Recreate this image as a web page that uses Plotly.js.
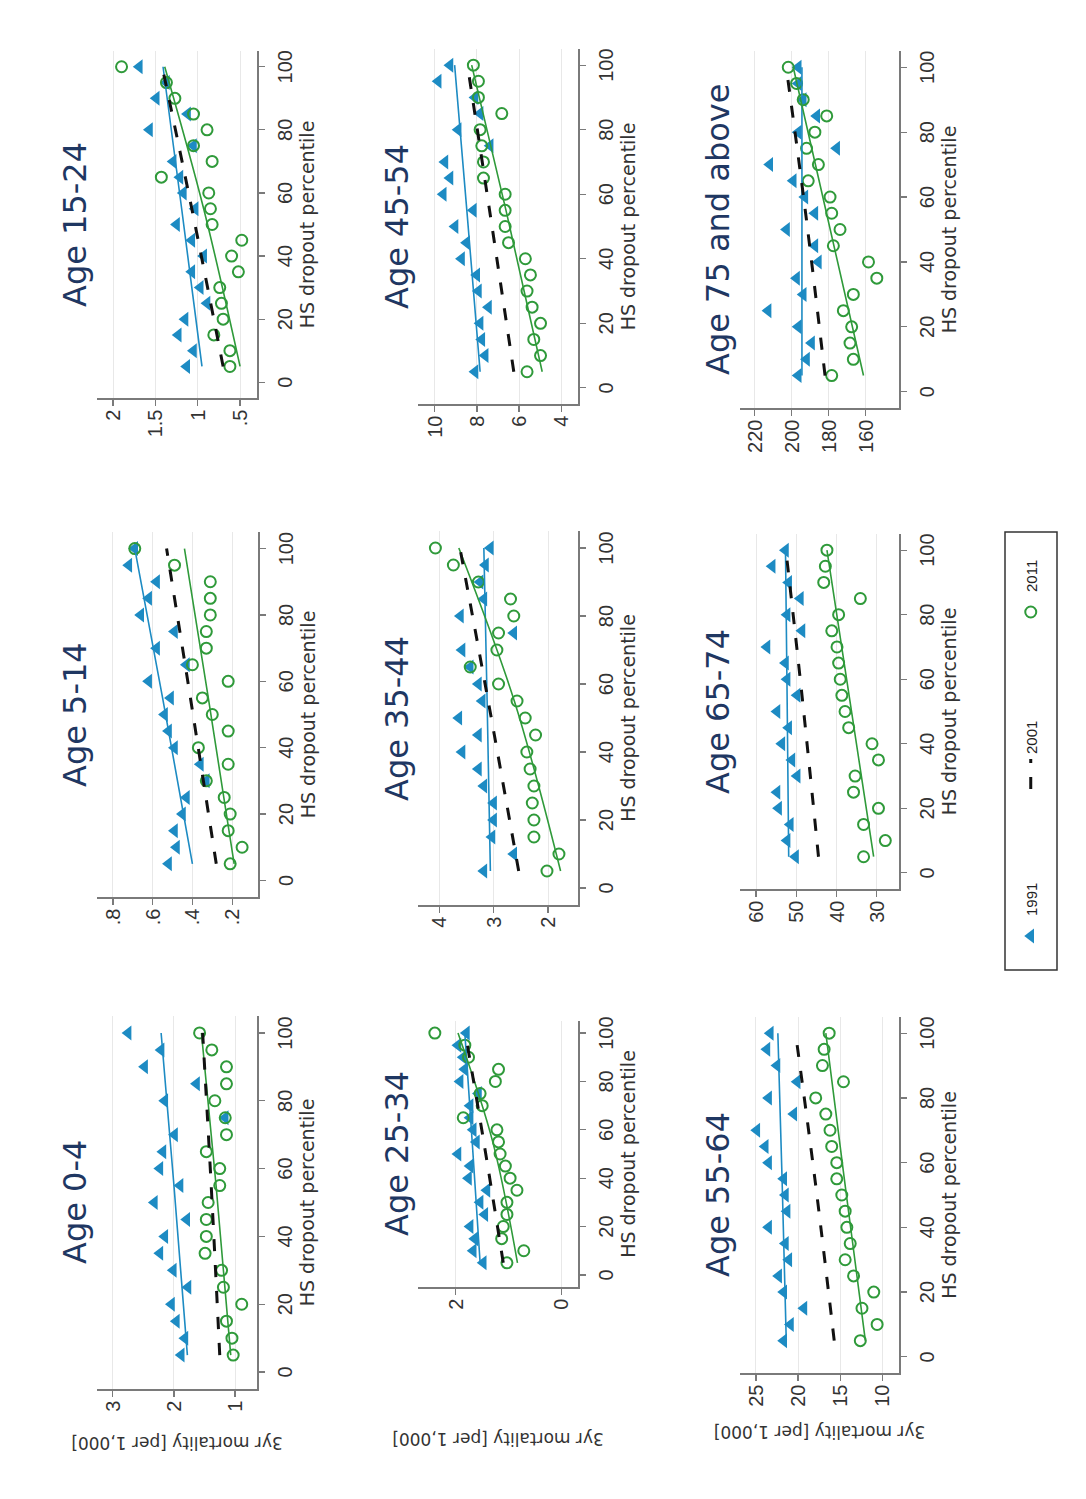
<!DOCTYPE html>
<html>
<head>
<meta charset="utf-8">
<script src="https://cdn.plot.ly/plotly-3.0.1.min.js"></script>
<style>
  html, body { margin:0; padding:0; background:#ffffff; width:1086px; height:1499px; overflow:hidden; }
  /* The figure is a landscape chart shown rotated a quarter turn, as in the reference scan */
  #wrap { position:absolute; left:0; top:0; width:1499px; height:1086px;
          transform-origin:0 0; transform:translate(0px,1499px) rotate(-90deg); }
</style>
</head>
<body>
<div id="wrap"></div>
<script>
// ---------------- DATA ----------------
const pct = [5,10,15,20,25,30,35,40,45,50,55,60,65,70,75,80,85,90,95,100];
const fitPct = [5, 55, 100];
const panelTitles = ["Age 0-4","Age 5-14","Age 15-24","Age 25-34","Age 35-44","Age 45-54","Age 55-64","Age 65-74","Age 75 and above"];
const seriesNames = ["1991","2001","2011"];
const xTickVals = [0,20,40,60,80,100];

const age0_4_1991   = [1.88,1.82,1.96,2.04,1.77,2.01,2.23,2.15,1.79,2.32,1.90,2.23,2.18,1.99,1.16,2.15,1.63,2.48,2.21,2.75];
const age0_4_2011   = [1.03,1.05,1.14,0.89,1.19,1.22,1.49,1.47,1.47,1.44,1.25,1.25,1.47,1.14,1.16,1.33,1.14,1.14,1.38,1.58];
const age0_4_fit1991 = [1.78,2.00,2.21];
const age0_4_fit2001 = [1.25,1.39,1.53];
const age0_4_fit2011 = [1.07,1.31,1.55];

const age5_14_1991  = [0.52,0.48,0.49,0.45,0.43,0.33,0.36,0.49,0.52,0.54,0.51,0.62,0.43,0.58,0.49,0.66,0.62,0.58,0.72,0.69];
const age5_14_2011  = [0.21,0.15,0.22,0.21,0.24,0.33,0.22,0.37,0.22,0.30,0.35,0.22,0.40,0.33,0.33,0.31,0.31,0.31,0.49,0.69];
const age5_14_fit1991 = [0.40,0.55,0.69];
const age5_14_fit2001 = [0.28,0.41,0.53];
const age5_14_fit2011 = [0.19,0.32,0.44];

const age15_24_1991 = [1.13,1.05,1.23,1.15,0.89,0.97,1.07,0.93,1.07,1.25,1.03,1.17,1.21,1.29,1.05,1.57,1.12,1.49,1.37,1.69];
const age15_24_2011 = [0.62,0.62,0.81,0.70,0.72,0.74,0.52,0.60,0.48,0.83,0.85,0.87,1.43,0.83,1.05,0.89,1.05,1.27,1.37,1.90];
const age15_24_fit1991 = [0.95,1.19,1.41];
const age15_24_fit2001 = [0.70,1.07,1.42];
const age15_24_fit2011 = [0.50,0.93,1.39];

const age25_34_1991 = [1.48,1.67,1.64,1.73,1.45,1.54,1.41,1.76,1.73,1.96,1.61,1.67,1.73,1.73,1.57,1.92,1.83,1.86,1.96,1.80];
const age25_34_2011 = [1.03,0.71,1.13,1.10,1.03,1.03,0.84,0.97,1.06,1.16,1.19,1.22,1.86,1.50,1.54,1.25,1.19,1.76,1.83,2.40];
const age25_34_fit1991 = [1.54,1.69,1.83];
const age25_34_fit2001 = [1.10,1.47,1.82];
const age25_34_fit2011 = [0.83,1.30,1.96];

const age35_44_1991 = [3.18,2.63,3.03,3.00,3.00,3.18,3.28,3.58,3.28,3.64,3.21,3.28,3.43,3.58,2.63,3.61,3.18,3.25,3.15,3.06];
const age35_44_2011 = [2.02,1.80,2.26,2.26,2.29,2.26,2.33,2.39,2.23,2.42,2.57,2.91,3.43,2.94,2.91,2.63,2.69,3.28,3.74,4.07];
const age35_44_fit1991 = [3.06,3.12,3.18];
const age35_44_fit2001 = [2.54,3.10,3.62];
const age35_44_fit2011 = [1.77,2.62,3.64];

const age45_54_1991 = [8.09,7.61,7.77,7.85,7.45,7.93,8.01,8.73,8.49,9.04,8.17,9.60,9.28,9.52,7.37,8.89,7.85,8.09,9.84,9.28];
const age45_54_2011 = [5.62,4.98,5.30,4.98,5.38,5.62,5.46,5.70,6.50,6.66,6.66,6.66,7.69,7.69,7.77,7.85,6.82,7.93,7.93,8.17];
const age45_54_fit1991 = [7.85,8.48,9.06];
const age45_54_fit2001 = [6.25,7.40,8.45];
const age45_54_fit2011 = [4.90,6.62,8.25];

const age55_64_1991 = [21.7,20.9,19.3,21.7,22.3,21.1,21.5,23.5,21.3,21.5,21.7,23.5,23.9,24.9,20.5,23.5,20.1,22.5,23.7,23.3];
const age55_64_2011 = [12.6,10.6,12.4,11.0,13.4,14.4,13.8,14.2,14.4,14.8,15.4,15.4,16.0,16.2,16.7,17.9,14.6,17.1,16.9,16.3];
const age55_64_fit1991 = [21.4,21.9,22.4];
const age55_64_fit2001 = [15.7,18.0,20.3];
const age55_64_fit2011 = [12.0,14.5,16.7];

const age65_74_1991 = [50.2,52.3,51.5,54.4,54.8,49.8,51.1,53.6,51.9,54.8,49.8,52.3,52.7,57.3,48.6,52.3,49.0,51.9,56.0,52.7];
const age65_74_2011 = [33.3,27.9,33.3,29.6,35.8,35.4,29.6,31.2,37.0,37.9,38.7,39.1,39.5,39.9,41.2,39.5,34.1,43.2,42.8,42.4];
const age65_74_fit1991 = [51.9,52.3,52.7];
const age65_74_fit2001 = [44.5,48.6,52.6];
const age65_74_fit2011 = [30.8,36.9,42.4];

const age75p_1991   = [196.5,192.0,189.3,196.5,212.8,193.8,197.4,185.6,187.5,202.8,187.5,192.9,199.2,211.9,175.7,196.5,186.5,193.8,196.5,196.5];
const age75p_2011   = [178.4,166.7,168.5,167.6,172.1,166.7,154.0,158.5,177.5,173.9,178.4,179.3,191.1,185.6,192.0,187.5,181.1,193.8,197.4,201.9];
const age75p_fit1991 = [194.5,194.5,194.5];
const age75p_fit2001 = [182.0,192.5,203.0];
const age75p_fit2011 = [161.2,181.2,199.2];

const yTickVals = [[1,2,3],[0.2,0.4,0.6,0.8],[0.5,1,1.5,2],[0,2],[2,3,4],[4,6,8,10],[10,15,20,25],[30,40,50,60],[160,180,200,220]];
const yTickText = [["1","2","3"],[".2",".4",".6",".8"],[".5","1","1.5","2"],["0","2"],["2","3","4"],["4","6","8","10"],["10","15","20","25"],["30","40","50","60"],["160","180","200","220"]];

// ---------------- LAYOUT GEOMETRY (landscape pixels) ----------------
const W = 1499, H = 1086;
const boxes = [ // [left, right, top, bottom]
  [110,483,97,257],[602,967,97,258],[1101,1448,97,257],
  [212,478,418,578],[594,968,418,578],[1095,1450,418,578],
  [126,482,740,899],[610,965,740,899],[1091,1448,740,899]
];
const yRanges = [[0.64,3.26],[0.07,0.88],[0.3,2.19],[-0.32,2.72],[1.45,4.39],[3.2,10.8],[8,26.9],[24.5,64],[142,228]];
const titleRowY = [75,75,75,397,397,397,718,718,718];
const yTitleStandoff = {0:20, 3:118, 6:14};

const s1991 = [age0_4_1991,age5_14_1991,age15_24_1991,age25_34_1991,age35_44_1991,age45_54_1991,age55_64_1991,age65_74_1991,age75p_1991];
const s2011 = [age0_4_2011,age5_14_2011,age15_24_2011,age25_34_2011,age35_44_2011,age45_54_2011,age55_64_2011,age65_74_2011,age75p_2011];
const f1991 = [age0_4_fit1991,age5_14_fit1991,age15_24_fit1991,age25_34_fit1991,age35_44_fit1991,age45_54_fit1991,age55_64_fit1991,age65_74_fit1991,age75p_fit1991];
const f2001 = [age0_4_fit2001,age5_14_fit2001,age15_24_fit2001,age25_34_fit2001,age35_44_fit2001,age45_54_fit2001,age55_64_fit2001,age65_74_fit2001,age75p_fit2001];
const f2011 = [age0_4_fit2011,age5_14_fit2011,age15_24_fit2011,age25_34_fit2011,age35_44_fit2011,age45_54_fit2011,age55_64_fit2011,age65_74_fit2011,age75p_fit2011];

const BLUE = "#1d8bc3", GREEN = "#2f9a3a", AX = "#7a7a7a", TITLEC = "#1f3762";
const TICKF = "Liberation Sans, Arial, sans-serif";
const TITF = "DejaVu Sans, Liberation Sans, sans-serif";

const traces = [];
const layout = {
  width: W, height: H, autosize: false,
  margin: {l:0, r:0, t:0, b:0},
  paper_bgcolor: "#ffffff", plot_bgcolor: "#ffffff",
  showlegend: true,
  legend: {orientation:"h", x:786/W, y:1-1031/H, xanchor:"center", yanchor:"middle",
           font:{family:TICKF, size:15, color:"#222"}, bgcolor:"rgba(0,0,0,0)", borderwidth:0,
           entrywidth:117, entrywidthmode:"pixels", traceorder:"normal"},
  annotations: [],
  shapes: [{type:"rect", xref:"paper", yref:"paper", x0:529/W, x1:967/W, y0:1-1057/H, y1:1-1005/H,
            line:{color:"#333", width:1.5}, fillcolor:"rgba(0,0,0,0)"}]
};

for (let i = 0; i < 9; i++) {
  const n = i === 0 ? "" : String(i+1);
  const xa = "x" + n, ya = "y" + n;
  const b = boxes[i];
  traces.push({type:"scatter", mode:"markers", x:pct, y:s1991[i], xaxis:xa, yaxis:ya,
    name:seriesNames[0], legendgroup:"1991", legendrank:1, showlegend:i===0, cliponaxis:false,
    marker:{symbol:"triangle-up", size:13, color:BLUE}, hoverinfo:"skip"});
  traces.push({type:"scatter", mode:"markers", x:pct, y:s2011[i], xaxis:xa, yaxis:ya,
    name:seriesNames[2], legendgroup:"2011", legendrank:3, showlegend:i===0, cliponaxis:false,
    marker:{symbol:"circle-open", size:11, color:GREEN, line:{width:2, color:GREEN}}, hoverinfo:"skip"});
  traces.push({type:"scatter", mode:"lines", x:fitPct, y:f1991[i], xaxis:xa, yaxis:ya,
    name:seriesNames[0], legendgroup:"1991", showlegend:false, line:{color:BLUE, width:1.6, shape:"spline"}, hoverinfo:"skip"});
  traces.push({type:"scatter", mode:"lines", x:fitPct, y:f2011[i], xaxis:xa, yaxis:ya,
    name:seriesNames[2], legendgroup:"2011", showlegend:false, line:{color:GREEN, width:1.6, shape:"spline"}, hoverinfo:"skip"});
  traces.push({type:"scatter", mode:"lines", x:fitPct, y:f2001[i], xaxis:xa, yaxis:ya,
    name:seriesNames[1], legendgroup:"2001", legendrank:2, showlegend:i===0,
    line:{color:"#111", width:3, dash:"12px,14px", shape:"spline"}, hoverinfo:"skip"});

  layout["xaxis"+n] = {
    domain:[b[0]/W, b[1]/W], range:[-5,105], anchor:ya, tickvals:xTickVals,
    ticks:"outside", ticklen:6, tickwidth:1.2, tickcolor:AX,
    showline:true, linecolor:AX, linewidth:1.5, showgrid:false, zeroline:false,
    tickfont:{family:TICKF, size:20, color:"#333"}, ticklabelstandoff:3,
    title:{text:"HS dropout percentile", font:{family:TITF, size:19, color:"#333"}, standoff:6}
  };
  const yax = {
    domain:[1-b[3]/H, 1-b[2]/H], range:yRanges[i], anchor:xa,
    tickvals:yTickVals[i], ticktext:yTickText[i],
    ticks:"outside", ticklen:6, tickwidth:1.2, tickcolor:AX,
    showline:true, linecolor:AX, linewidth:1.5, showgrid:true, gridcolor:"#e8e8e8", gridwidth:1, zeroline:false,
    tickfont:{family:TICKF, size:20, color:"#333"}
  };
  if (yTitleStandoff[i] !== undefined) {
    yax.title = {text:"3yr mortality [per 1,000]", font:{family:TITF, size:17, color:"#333"}, standoff:yTitleStandoff[i]};
  }
  layout["yaxis"+n] = yax;

  layout.annotations.push({xref:"paper", yref:"paper", x:(b[0]+b[1])/2/W, y:1-titleRowY[i]/H,
    xanchor:"center", yanchor:"middle", showarrow:false, text:panelTitles[i],
    font:{family:TITF, size:32, color:TITLEC}});
}

Plotly.newPlot("wrap", traces, layout, {displayModeBar:false, staticPlot:true});
</script>
</body>
</html>
